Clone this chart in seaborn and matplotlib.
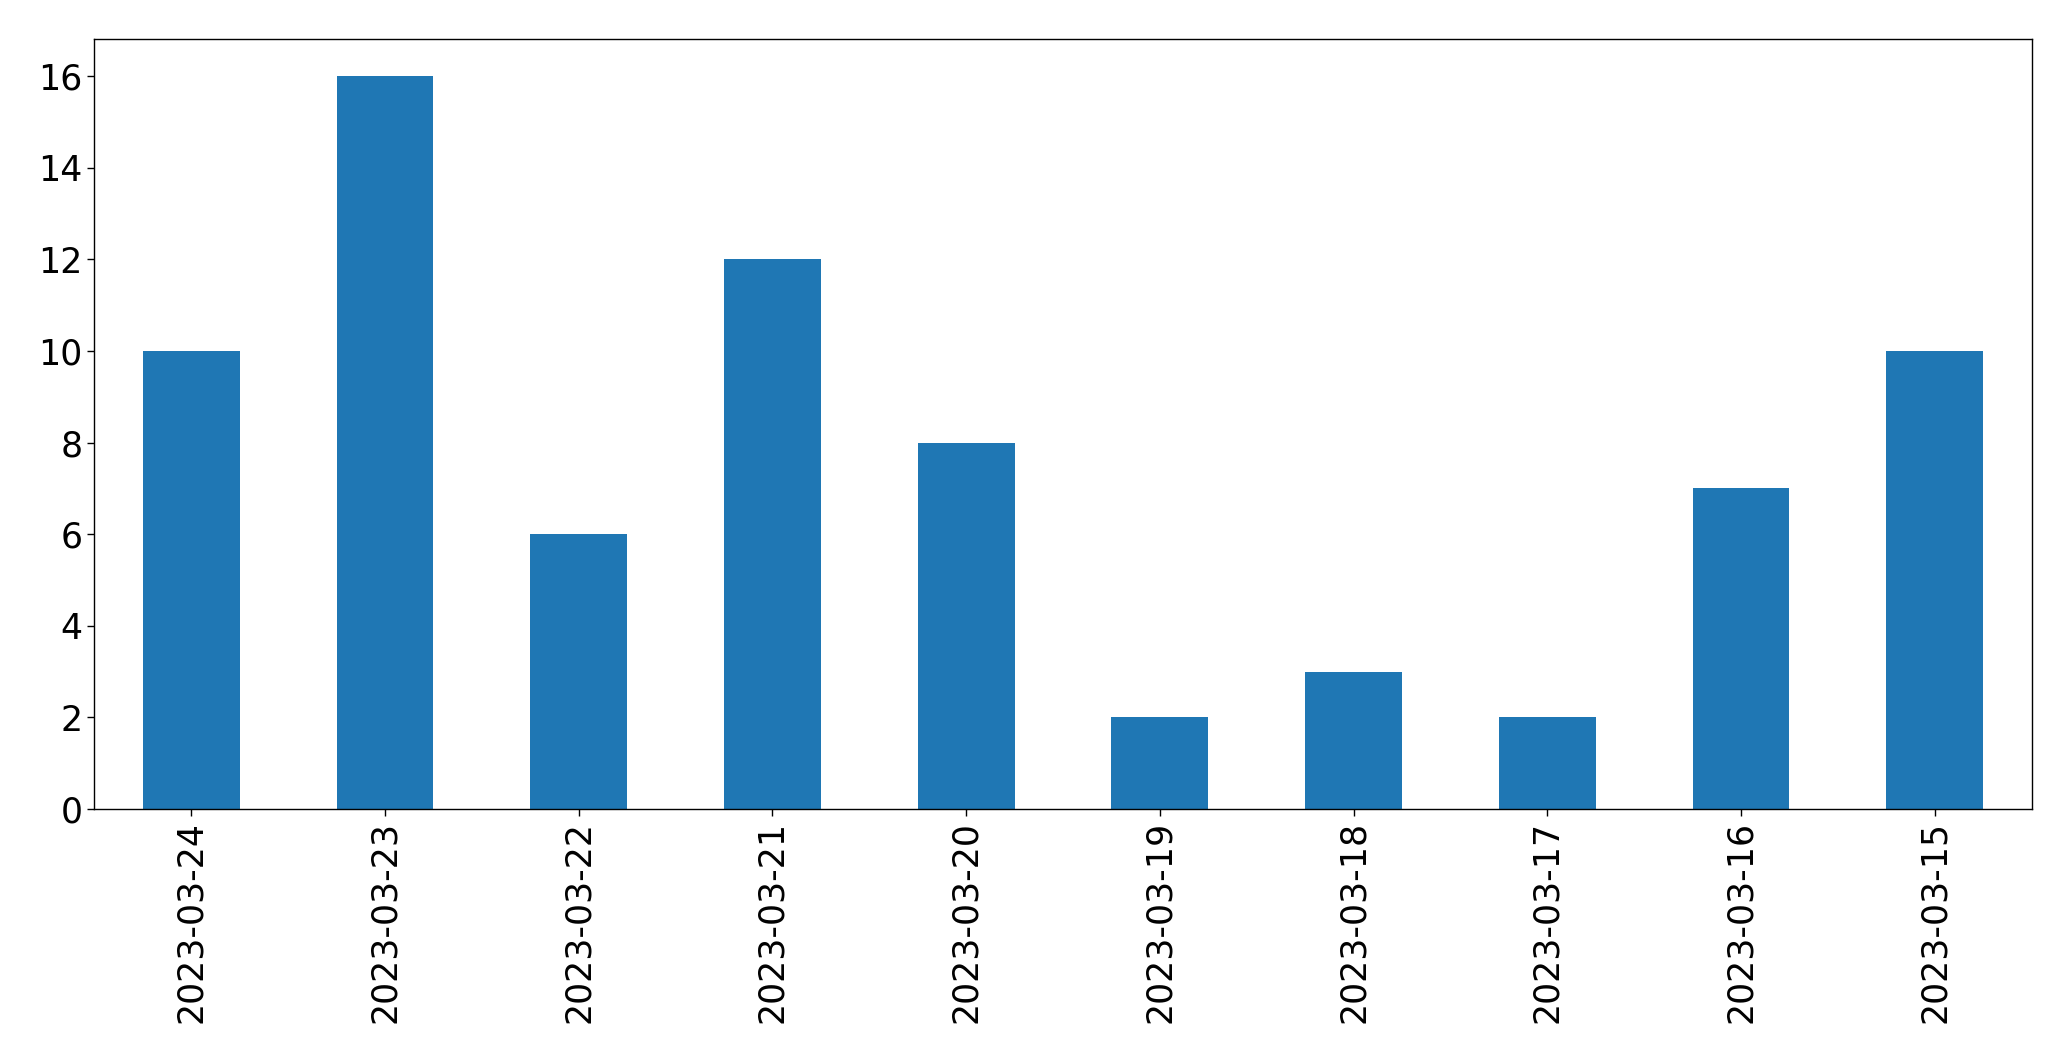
import matplotlib
matplotlib.use("Agg")
import matplotlib.pyplot as plt
import seaborn as sns
import pandas as pd

dates = ["2023-03-24", "2023-03-23", "2023-03-22", "2023-03-21", "2023-03-20",
         "2023-03-19", "2023-03-18", "2023-03-17", "2023-03-16", "2023-03-15"]
counts = [10, 16, 6, 12, 8, 2, 3, 2, 7, 10]

df = pd.DataFrame({"date": dates, "count": counts})

plt.rcParams["font.family"] = ["DejaVu Sans"]
fig = plt.figure(figsize=(20.71, 10.61), dpi=100)
ax = fig.add_axes([0.0456, 0.2375, 0.9354, 0.7253])
sns.barplot(data=df, x="date", y="count", order=dates, color="#1f77b4",
            saturation=1, width=0.5, ax=ax)
ax.set_xlim(-0.5, len(dates) - 0.5)
ax.set_ylim(0, 16.8)
ax.set_yticks(range(0, 17, 2))
ax.set_xlabel("")
ax.set_ylabel("")
ax.tick_params(axis="both", labelsize=25, length=5, width=1)
ax.tick_params(axis="x", labelrotation=90)
for s in ax.spines.values():
    s.set_visible(True)
    s.set_color("black")
    s.set_linewidth(1)
fig.savefig("out.png", dpi=100)
